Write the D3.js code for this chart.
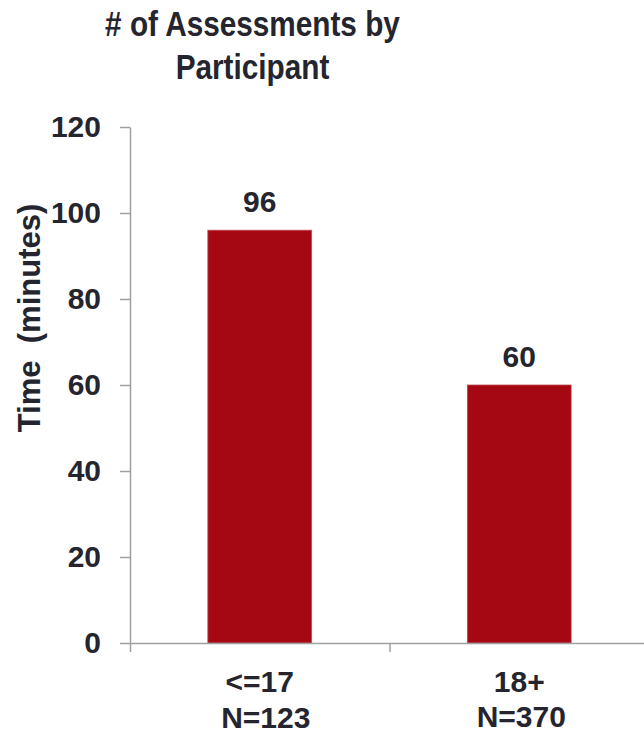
<!DOCTYPE html>
<html>
<head>
<meta charset="utf-8">
<script src="https://cdn.jsdelivr.net/npm/d3@7"></script>
<style>
  html, body { margin: 0; padding: 0; background: #fff; }
  svg { display: block; }
  text { font-family: "Liberation Sans", Arial, Helvetica, sans-serif; font-weight: bold; fill: #25252f; }
</style>
</head>
<body>
<svg id="chart" width="644" height="735"></svg>
<script>
// Chart data
const categories = ["<=17", "18+"];
const sampleSizes = ["N=123", "N=370"];
const values = [96, 60];
const yTicks = [0, 20, 40, 60, 80, 100, 120];
const titleLines = ["# of Assessments by", "Participant"];
const yTitle = "Time\u00a0\u00a0(minutes)";

const svg = d3.select("#chart");
const axisColor = "#a0a0a0";
const barColor = "#a50812";

const plot = { left: 130, right: 649, top: 127, bottom: 643 };

const x = d3.scaleBand()
  .domain(categories)
  .range([plot.left, plot.right])
  .paddingInner(0.6)
  .paddingOuter(0.3);

const y = d3.scaleLinear()
  .domain([0, 120])
  .range([plot.bottom, plot.top]);

// Title (condensed)
svg.append("g")
  .attr("transform", "translate(252.5,0) scale(0.85,1)")
  .selectAll("text")
  .data(titleLines)
  .join("text")
  .attr("x", 0)
  .attr("y", (d, i) => 36 + i * 43)
  .attr("text-anchor", "middle")
  .style("font-size", "35px")
  .text(d => d);

// Bars
svg.append("g")
  .selectAll("rect")
  .data(values)
  .join("rect")
  .attr("x", (d, i) => x(categories[i]))
  .attr("width", x.bandwidth())
  .attr("y", d => y(d))
  .attr("height", d => y(0) - y(d))
  .attr("fill", barColor)
  .attr("stroke", "#c24a52")
  .attr("stroke-width", 0.8);

// Value labels
svg.append("g")
  .selectAll("text")
  .data(values)
  .join("text")
  .attr("x", (d, i) => x(categories[i]) + x.bandwidth() / 2)
  .attr("y", d => y(d) - 18)
  .attr("text-anchor", "middle")
  .style("font-size", "30px")
  .text(d => d);

// Y axis
const yAxis = svg.append("g")
  .attr("transform", `translate(${plot.left},0)`)
  .call(d3.axisLeft(y).tickValues(yTicks).tickSize(10).tickSizeOuter(0).tickPadding(19));
yAxis.select(".domain").attr("stroke", axisColor).attr("stroke-width", 1.5);
yAxis.selectAll(".tick line").attr("stroke", axisColor).attr("stroke-width", 1.5);
yAxis.selectAll(".tick text")
  .style("font-size", "30px")
  .attr("fill", "#25252f")
  .attr("font-family", null)
  .attr("font-size", null);

// X axis with tick marks at category boundaries
const xEdges = d3.scaleLinear().domain([0, categories.length]).range([plot.left, plot.right]);
const xAxis = svg.append("g")
  .attr("transform", `translate(0,${plot.bottom})`)
  .call(d3.axisBottom(xEdges).tickValues(d3.range(categories.length + 1)).tickSize(9).tickSizeOuter(0).tickFormat(""));
xAxis.select(".domain").attr("stroke", axisColor).attr("stroke-width", 1.5);
xAxis.selectAll(".tick line").attr("stroke", axisColor).attr("stroke-width", 1.5);

// Category labels (two lines each)
const labelOffsets = [[0, 6], [0, 2]];
const labelBaselines = [[692, 728], [692, 727]];
const catLabels = svg.append("g");
categories.forEach((c, i) => {
  const cx = x(c) + x.bandwidth() / 2;
  [c, sampleSizes[i]].forEach((line, j) => {
    catLabels.append("text")
      .attr("x", cx + labelOffsets[i][j])
      .attr("y", labelBaselines[i][j])
      .attr("text-anchor", "middle")
      .style("font-size", "30px")
      .text(line);
  });
});

// Y axis title
svg.append("text")
  .attr("transform", "translate(40,318) rotate(-90)")
  .attr("text-anchor", "middle")
  .style("font-size", "31px")
  .text(yTitle);
</script>
</body>
</html>
